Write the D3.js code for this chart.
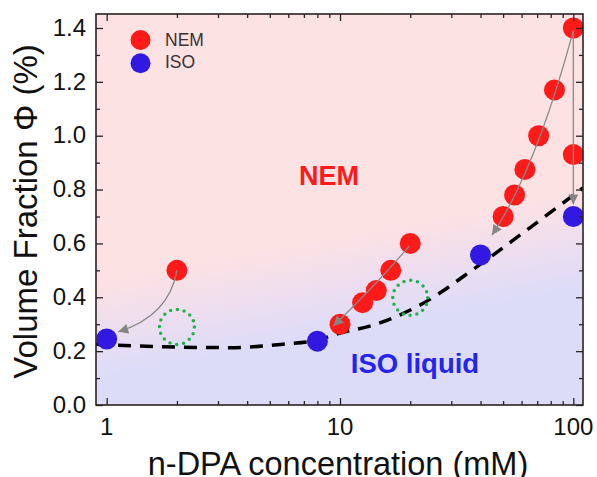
<!DOCTYPE html>
<html lang="en">

<head>
    <meta charset="UTF-8">
    <title>n-DPA phase diagram</title>
    <script src="https://d3js.org/d3.v7.min.js"></script>
    <style>
        body {
            margin: 0;
            background: #fff;
        }

        svg text {
            font-family: "Liberation Sans", Arial, sans-serif;
        }
    </style>
</head>

<body>
    <div class="chart"></div>

    <script>
        // data (concentration in mM, volume fraction in %)
        var nemConc = [2, 10, 12.5, 14.3, 16.5, 20, 50, 56, 62, 71, 83, 100, 100];
        var nemFrac = [0.5, 0.3, 0.38, 0.425, 0.5, 0.6, 0.7, 0.78, 0.875, 1.0, 1.17, 1.4, 0.93];
        var isoConc = [1, 8, 40, 100];
        var isoFrac = [0.245, 0.237, 0.557, 0.7];

        // dashed phase boundary
        var boundaryConc = [0.9, 1.98, 3.4, 5.7, 8, 10, 13.9, 22, 38.7, 60.8, 110];
        var boundaryFrac = [0.226, 0.215, 0.213, 0.226, 0.241, 0.267, 0.297, 0.371, 0.514, 0.639, 0.806];

        // green dotted circles
        var markConc = [2, 20];
        var markFrac = [0.29, 0.398];

        // grey arrows: start, bend, tip
        var arrowStart = [[2, 0.5], [100, 1.39], [100, 1.39], [19.8, 0.59]];
        var arrowBend = [[1.85, 0.33], [69, 0.873], [100, 1.07], [13.9, 0.435]];
        var arrowTip = [[1.12, 0.272], [44.8, 0.631], [100, 0.745], [9.35, 0.293]];

        var xTicks = [1, 10, 100];
        var xMinor = [2, 3, 4, 5, 6, 7, 8, 9, 20, 30, 40, 50, 60, 70, 80, 90];
        var yTicks = [0, 0.2, 0.4, 0.6, 0.8, 1.0, 1.2, 1.4];
        var yMinor = [0.1, 0.3, 0.5, 0.7, 0.9, 1.1, 1.3];

        var width = 597;
        var height = 477;
        var padL = 96, padR = 583, padT = 14, padB = 405;
        var red = '#ff1a1a';
        var blue = '#3119e2';
        var axisColor = '#2b2226';

        var svg = d3.select('.chart')
            .append('svg')
            .attr('width', width)
            .attr('height', height);

        var x = d3.scaleLog()
            .domain([0.9, 110])
            .range([padL, padR]);

        var y = d3.scaleLinear()
            .domain([0, 1.452])
            .range([padB, padT]);

        var defs = svg.append('defs');
        var grad = defs.append('linearGradient')
            .attr('id', 'bg')
            .attr('gradientUnits', 'userSpaceOnUse')
            .attr('x1', 330).attr('y1', 236)
            .attr('x2', 348).attr('y2', 334);
        grad.append('stop').attr('offset', '0').attr('stop-color', '#fde2e3');
        grad.append('stop').attr('offset', '0.45').attr('stop-color', '#efdeee');
        grad.append('stop').attr('offset', '1').attr('stop-color', '#dcdcf9');

        defs.append('clipPath')
            .attr('id', 'plot')
            .append('rect')
            .attr('x', padL).attr('y', padT)
            .attr('width', padR - padL).attr('height', padB - padT);

        defs.append('marker')
            .attr('id', 'head')
            .attr('viewBox', '0 0 10 10')
            .attr('refX', 10).attr('refY', 5)
            .attr('markerWidth', 11).attr('markerHeight', 10)
            .attr('markerUnits', 'userSpaceOnUse')
            .attr('orient', 'auto')
            .append('path')
            .attr('d', 'M0,0 L10,5 L0,10 Z')
            .attr('fill', '#858585');

        svg.append('rect')
            .attr('x', padL).attr('y', padT)
            .attr('width', padR - padL).attr('height', padB - padT)
            .attr('fill', 'url(#bg)');

        var plot = svg.append('g').attr('clip-path', 'url(#plot)');

        // phase boundary
        var line = d3.line()
            .x(function (d) { return x(d[0]); })
            .y(function (d) { return y(d[1]); })
            .curve(d3.curveMonotoneX);

        plot.append('path')
            .datum(d3.zip(boundaryConc, boundaryFrac))
            .attr('d', line)
            .attr('fill', 'none')
            .attr('stroke', '#000')
            .attr('stroke-width', 3.5)
            .attr('stroke-dasharray', '13,9');

        // dotted markers
        plot.selectAll('.mark')
            .data(d3.zip(markConc, markFrac))
            .enter()
            .append('circle')
            .attr('class', 'mark')
            .attr('cx', function (d) { return x(d[0]); })
            .attr('cy', function (d) { return y(d[1]); })
            .attr('r', 17.5)
            .attr('fill', 'none')
            .attr('stroke', '#22b24c')
            .attr('stroke-width', 3.5)
            .attr('stroke-linecap', 'round')
            .attr('stroke-dasharray', '0,6.87');

        // points
        plot.selectAll('.nem')
            .data(d3.zip(nemConc, nemFrac))
            .enter()
            .append('circle')
            .attr('class', 'nem')
            .attr('cx', function (d) { return x(d[0]); })
            .attr('cy', function (d) { return y(d[1]); })
            .attr('r', 10.5)
            .attr('fill', red);

        plot.selectAll('.iso')
            .data(d3.zip(isoConc, isoFrac))
            .enter()
            .append('circle')
            .attr('class', 'iso')
            .attr('cx', function (d) { return x(d[0]); })
            .attr('cy', function (d) { return y(d[1]); })
            .attr('r', 10.5)
            .attr('fill', blue);

        // arrows
        plot.selectAll('.arrow')
            .data(d3.range(arrowStart.length))
            .enter()
            .append('path')
            .attr('class', 'arrow')
            .attr('d', function (i) {
                var p = d3.path();
                p.moveTo(x(arrowStart[i][0]), y(arrowStart[i][1]));
                p.quadraticCurveTo(x(arrowBend[i][0]), y(arrowBend[i][1]), x(arrowTip[i][0]), y(arrowTip[i][1]));
                return p.toString();
            })
            .attr('fill', 'none')
            .attr('stroke', '#8a8a8a')
            .attr('stroke-width', 1.3)
            .attr('marker-end', 'url(#head)');

        // axes, ticks pointing inward on all four sides
        function drawAxis(axis, major, minor, transform) {
            var g = svg.append('g').attr('transform', transform);
            g.call(axis.tickValues(major).tickSize(-7).tickSizeOuter(0).tickFormat(''));
            var m = svg.append('g').attr('transform', transform);
            m.call(axis.tickValues(minor).tickSize(-4).tickSizeOuter(0).tickFormat(''));
            [g, m].forEach(function (s) {
                s.select('.domain').remove();
                s.selectAll('line').attr('stroke', axisColor).attr('stroke-width', 1.3);
            });
        }

        drawAxis(d3.axisBottom(x), xTicks, xMinor, 'translate(0,' + padB + ')');
        drawAxis(d3.axisTop(x), xTicks, xMinor, 'translate(0,' + padT + ')');
        drawAxis(d3.axisLeft(y), yTicks, yMinor, 'translate(' + padL + ',0)');
        drawAxis(d3.axisRight(y), yTicks, yMinor, 'translate(' + padR + ',0)');

        svg.append('rect')
            .attr('x', padL).attr('y', padT)
            .attr('width', padR - padL).attr('height', padB - padT)
            .attr('fill', 'none')
            .attr('stroke', axisColor)
            .attr('stroke-width', 1.6);

        // tick labels
        svg.selectAll('.xlab')
            .data(xTicks)
            .enter()
            .append('text')
            .attr('class', 'xlab')
            .attr('x', function (d) { return x(d); })
            .attr('y', 435)
            .attr('text-anchor', 'middle')
            .attr('font-size', 24)
            .attr('fill', '#111')
            .text(function (d) { return d; });

        svg.selectAll('.ylab')
            .data(yTicks)
            .enter()
            .append('text')
            .attr('class', 'ylab')
            .attr('x', 86)
            .attr('y', function (d) { return y(d); })
            .attr('dy', '0.32em')
            .attr('text-anchor', 'end')
            .attr('font-size', 24)
            .attr('fill', '#111')
            .text(function (d) { return d.toFixed(1); });

        // axis titles (the bottom one sits right on the lower edge, as in the original)
        svg.append('text')
            .attr('x', 338)
            .attr('y', 475)
            .attr('text-anchor', 'middle')
            .attr('font-size', 32.5)
            .attr('fill', '#111')
            .text('n-DPA concentration (mM)');

        svg.append('text')
            .attr('transform', 'translate(37,211.5) rotate(-90)')
            .attr('text-anchor', 'middle')
            .attr('font-size', 33)
            .attr('fill', '#111')
            .text('Volume Fraction Φ (%)');

        // region labels
        svg.append('text')
            .attr('x', 329)
            .attr('y', 185)
            .attr('text-anchor', 'middle')
            .attr('font-size', 27)
            .attr('font-weight', 'bold')
            .attr('fill', red)
            .text('NEM');

        svg.append('text')
            .attr('x', 415)
            .attr('y', 373)
            .attr('text-anchor', 'middle')
            .attr('font-size', 27.5)
            .attr('font-weight', 'bold')
            .attr('fill', '#2424ee')
            .text('ISO liquid');

        // legend
        var legendNames = ['NEM', 'ISO'];
        var legendColors = [red, blue];
        var legend = svg.append('g');
        legend.selectAll('circle')
            .data(legendNames)
            .enter()
            .append('circle')
            .attr('cx', 140.5)
            .attr('cy', function (d, i) { return 40 + i * 23.3; })
            .attr('r', 10)
            .attr('fill', function (d, i) { return legendColors[i]; });
        legend.selectAll('text')
            .data(legendNames)
            .enter()
            .append('text')
            .attr('x', 165)
            .attr('y', function (d, i) { return 45.7 + i * 22.6; })
            .attr('font-size', 17.5)
            .attr('fill', '#3d3033')
            .text(function (d) { return d; });
    </script>
</body>

</html>
